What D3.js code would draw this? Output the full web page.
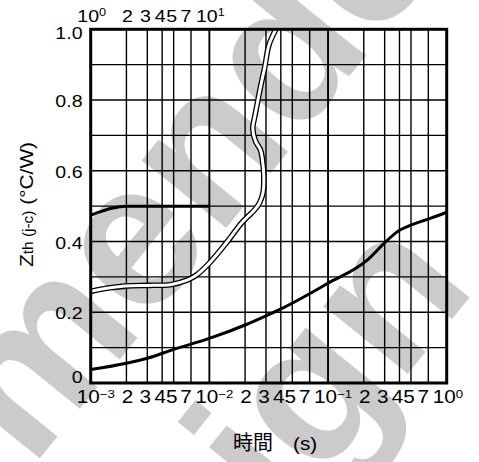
<!DOCTYPE html>
<html>
<head>
<meta charset="utf-8">
<script src="https://cdn.jsdelivr.net/npm/d3@7"></script>
<style>
  html, body { margin: 0; padding: 0; background: #fff; }
  svg { display: block; }
</style>
</head>
<body>
<svg id="chart" width="479" height="462"></svg>
<script>
// ---- data ----------------------------------------------------------------
// Time axis (bottom): 1 ms .. 1 s, decades and labelled mantissas
const decadesBottom = [1e-3, 1e-2, 1e-1, 1];
const bottomExponents = ["\u22123", "\u22122", "\u22121", "0"];
const mantissas = [2, 3, 4, 5, 7];
// Time axis (top): 1 s .. 10 s over the first decade
const decadesTop = [1, 10];
const topExponents = ["0", "1"];
// Zth axis
const yTickValues = [0, 0.2, 0.4, 0.6, 0.8, 1.0];
const yTickLabels = ["0", "0.2", "0.4", "0.6", "0.8", "1.0"];
const yGridValues = [0.1, 0.2, 0.3, 0.4, 0.5, 0.6, 0.7, 0.8, 0.9];

// Transient thermal impedance, bottom time axis (s, °C/W)
const pulseTime = [0.001, 0.002, 0.003, 0.005, 0.01, 0.02, 0.03, 0.041, 0.1, 0.215, 0.297, 0.385, 0.532, 0.736, 1.0];
const pulseZth  = [0.038, 0.056, 0.070, 0.095, 0.126, 0.164, 0.190, 0.211, 0.282, 0.348, 0.395, 0.428, 0.450, 0.466, 0.483];

// Curve read against the top time axis (s, °C/W)
const longTime = [1, 1.25, 1.5, 2, 3, 5, 10];
const longZth  = [0.475, 0.486, 0.494, 0.500, 0.500, 0.500, 0.500];

// Outlined curve, bottom time axis (s, °C/W)
const outlineTime = [0.001, 0.00146, 0.00195, 0.00305, 0.00468, 0.0065, 0.00777, 0.0098, 0.01411, 0.01863, 0.02133, 0.02399, 0.02645, 0.0283, 0.02875, 0.02804, 0.02697, 0.02446, 0.02321, 0.02399, 0.0252, 0.02697, 0.0293, 0.0318, 0.0364];
const outlineZth  = [0.259, 0.269, 0.274, 0.276, 0.278, 0.291, 0.305, 0.336, 0.399, 0.452, 0.472, 0.489, 0.509, 0.537, 0.588, 0.630, 0.659, 0.684, 0.721, 0.749, 0.786, 0.837, 0.893, 0.956, 1.000];

// Watermark
const watermarkLines = ["Not Recommended", "for New Design"];

// ---- layout ---------------------------------------------------------------
const svg = d3.select("#chart");
const plot = { left: 90.7, right: 446.7, top: 29.3, bottom: 383 };
const FONT = "'Liberation Sans', Arial, Helvetica, sans-serif";
const SX = 1.15; // glyph width stretch used for all Latin labels

const x = d3.scaleLog().domain([1e-3, 1]).range([plot.left, plot.right]);
const xTop = d3.scaleLog().domain([1, 1000]).range([plot.left, plot.right]);
const y = d3.scaleLinear().domain([0, 1]).range([plot.bottom, plot.top]);

svg.append("rect").attr("width", 479).attr("height", 462).attr("fill", "#fff");

// ---- watermark (beneath everything, clipped to the page) -----------------
svg.append("clipPath").attr("id", "pageClip")
  .append("rect").attr("width", 479).attr("height", 462);
const wmSize = 205, wmAngle = -51;
const wm = svg.append("g")
  .attr("clip-path", "url(#pageClip)")
  .attr("fill", "#cbcbcb")
  .attr("font-family", FONT)
  .attr("font-weight", "bold")
  .attr("font-size", wmSize);

function placeWatermark(str, charIndex, cx, cy) {
  const t = wm.append("text").attr("x", 0).attr("y", 0).text(str);
  const node = t.node();
  const pre = charIndex > 0 ? node.getSubStringLength(0, charIndex) : 0;
  const w = node.getSubStringLength(charIndex, 1);
  t.attr("transform",
    `translate(${cx},${cy}) rotate(${wmAngle}) translate(${-(pre + w / 2)},${0.26 * wmSize})`);
}
placeWatermark(watermarkLines[0], 10, 140, 250);
placeWatermark(watermarkLines[1], 12, 318, 400);

// ---- grid -----------------------------------------------------------------
const grid = svg.append("g").attr("stroke", "#000").attr("fill", "none");
const vLines = [];
decadesBottom.forEach((d, i) => {
  if (i > 0 && i < decadesBottom.length - 1) vLines.push({ v: d, major: true });
  if (i < decadesBottom.length - 1) mantissas.forEach(m => vLines.push({ v: d * m, major: false }));
});
grid.selectAll("line.v").data(vLines).join("line")
  .attr("class", "v")
  .attr("x1", d => x(d.v)).attr("x2", d => x(d.v))
  .attr("y1", plot.top).attr("y2", plot.bottom)
  .attr("stroke-width", d => d.major ? 1.9 : 1.4);
grid.selectAll("line.h").data(yGridValues).join("line")
  .attr("class", "h")
  .attr("x1", plot.left).attr("x2", plot.right)
  .attr("y1", d => y(d)).attr("y2", d => y(d))
  .attr("stroke-width", 1.4);

// ---- curves ---------------------------------------------------------------
svg.append("clipPath").attr("id", "plotClip")
  .append("rect")
  .attr("x", plot.left).attr("y", plot.top - 1)
  .attr("width", plot.right - plot.left).attr("height", plot.bottom - plot.top + 1);

const curves = svg.append("g").attr("clip-path", "url(#plotClip)").attr("fill", "none");

const pulsePts = pulseTime.map((t, i) => [x(t), y(pulseZth[i])]);
const longPts = longTime.map((t, i) => [xTop(t), y(longZth[i])]);
const outlinePts = outlineTime.map((t, i) => [x(t), y(outlineZth[i])]);

const smoothX = d3.line().curve(d3.curveMonotoneX);
const smoothPath = d3.line().curve(d3.curveCatmullRom.alpha(0.5));

curves.append("path").attr("d", smoothX(pulsePts))
  .attr("stroke", "#000").attr("stroke-width", 3).attr("stroke-linejoin", "round");
curves.append("path").attr("d", smoothX(longPts))
  .attr("stroke", "#000").attr("stroke-width", 3).attr("stroke-linejoin", "round");
curves.append("path").attr("d", smoothPath(outlinePts))
  .attr("stroke", "#000").attr("stroke-width", 5.6).attr("stroke-linejoin", "round");
curves.append("path").attr("d", smoothPath(outlinePts))
  .attr("stroke", "#fff").attr("stroke-width", 3.0).attr("stroke-linejoin", "round");

// ---- frame ----------------------------------------------------------------
svg.append("rect")
  .attr("x", plot.left).attr("y", plot.top)
  .attr("width", plot.right - plot.left).attr("height", plot.bottom - plot.top)
  .attr("fill", "none").attr("stroke", "#000").attr("stroke-width", 3);

// ---- labels ---------------------------------------------------------------
const labels = svg.append("g").attr("font-family", FONT).attr("fill", "#000");

// Zth ticks
yTickValues.forEach((v, i) => {
  const base = Math.max(39, Math.min(plot.bottom, y(v) + 7));
  labels.append("text")
    .attr("transform", `translate(82.5,${base}) scale(${SX},1)`)
    .attr("text-anchor", "end").attr("font-size", 17)
    .text(yTickLabels[i]);
});

// Time tick labels: decades drawn as 10 with a raised exponent
function timeLabels(scale, decades, exps, baseline, fs, supSize, supRise) {
  decades.forEach((d, i) => {
    const t = labels.append("text")
      .attr("transform", `translate(${scale(d) - 2.5},${baseline}) scale(${SX},1)`)
      .attr("font-size", fs)
      .attr("x", -0.556 * fs);
    t.append("tspan").text("10");
    t.append("tspan").attr("font-size", supSize).attr("dy", -supRise).text(exps[i]);
    if (i < decades.length - 1) {
      mantissas.forEach(m => {
        const shift = m === 7 ? -5 : (m === 2 ? 1 : -2);
        labels.append("text")
          .attr("transform", `translate(${scale(d * m) + shift},${baseline}) scale(${SX},1)`)
          .attr("text-anchor", "middle").attr("font-size", fs)
          .text(m);
      });
    }
  });
}
timeLabels(x, decadesBottom, bottomExponents, 403, 18, 11.5, 5);
timeLabels(xTop, decadesTop, topExponents, 21.5, 17, 11, 6);

// Axis titles
const yTitle = labels.append("text")
  .attr("transform", `translate(32.5,267) rotate(-90) scale(1.1,1)`)
  .attr("font-size", 19);
yTitle.append("tspan").text("Z");
yTitle.append("tspan").attr("font-size", 14).text("th");
yTitle.append("tspan").attr("font-size", 14).text(" (j-c)");
yTitle.append("tspan").text(" (\u00B0C/W)");

labels.append("text")
  .attr("x", 233).attr("y", 450)
  .attr("font-family", "'Noto Sans CJK JP', 'Noto Sans CJK SC', sans-serif")
  .attr("font-size", 20)
  .text("時間");
labels.append("text")
  .attr("transform", `translate(293,450) scale(${SX},1)`)
  .attr("font-size", 18)
  .text("(s)");
</script>
</body>
</html>
